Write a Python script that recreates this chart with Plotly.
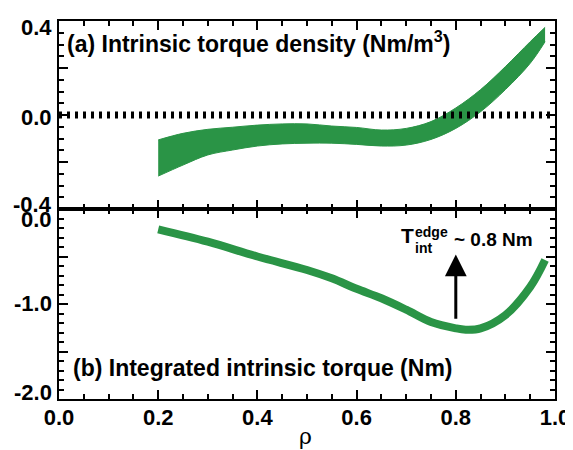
import plotly.graph_objects as go
from plotly.subplots import make_subplots

# ---- data ----
rho_a = [0.20, 0.25, 0.30, 0.35, 0.40, 0.45, 0.50, 0.55, 0.60, 0.65, 0.70, 0.75, 0.80, 0.85, 0.90, 0.95, 0.98]
torque_density_upper = [-0.106, -0.078, -0.061, -0.052, -0.043, -0.038, -0.038, -0.047, -0.053, -0.064, -0.057, -0.028, 0.030, 0.108, 0.206, 0.312, 0.373]
torque_density_lower = [-0.260, -0.213, -0.170, -0.149, -0.132, -0.123, -0.120, -0.120, -0.125, -0.132, -0.128, -0.104, -0.057, 0.014, 0.108, 0.220, 0.312]

rho_b = [0.20, 0.30, 0.40, 0.50, 0.55, 0.60, 0.65, 0.70, 0.75, 0.80, 0.82, 0.85, 0.90, 0.95, 0.98]
integrated_torque = [-0.214, -0.344, -0.500, -0.642, -0.730, -0.840, -0.940, -1.060, -1.190, -1.256, -1.270, -1.256, -1.116, -0.820, -0.537]

x_ticks = [0.0, 0.2, 0.4, 0.6, 0.8, 1.0]
x_ticktext = ["0.0", "0.2", "0.4", "0.6", "0.8", "1.0"]
ya_ticks = [-0.4, -0.2, 0.0, 0.2, 0.4]
ya_labels = [-0.4, 0.0, 0.4]
ya_labeltext = ["-0.4", "0.0", "0.4"]
yb_ticks = [-2.0, -1.5, -1.0, -0.5, 0.0]
yb_labels = [-2.0, -1.0, 0.0]
yb_labeltext = ["-2.0", "-1.0", "0.0"]

# IDL-style label offsets (pixels) so labels stay inside each panel's range
ya_label_shift = [5, -2, -6.5]
yb_label_shift = [7, 1, -10]

GREEN = "#2a9446"
FONT = "Liberation Sans, Arial, sans-serif"

fig = make_subplots(rows=2, cols=1, shared_xaxes=True, vertical_spacing=0,
                    row_heights=[188, 190])

# band (a)
fig.add_trace(go.Scatter(x=rho_a, y=torque_density_lower, mode="lines",
                         line=dict(color=GREEN, width=1, shape="spline"),
                         showlegend=False, hoverinfo="skip"), row=1, col=1)
fig.add_trace(go.Scatter(x=rho_a, y=torque_density_upper, mode="lines",
                         line=dict(color=GREEN, width=1, shape="spline"),
                         fill="tonexty", fillcolor=GREEN,
                         showlegend=False, hoverinfo="skip"), row=1, col=1)
# zero dotted line
fig.add_trace(go.Scatter(x=[0.0, 1.0], y=[0.0, 0.0], mode="lines",
                         line=dict(color="black", width=7, dash="3px,5px"),
                         showlegend=False, hoverinfo="skip"), row=1, col=1)

# line (b)
fig.add_trace(go.Scatter(x=rho_b, y=integrated_torque, mode="lines",
                         line=dict(color=GREEN, width=8, shape="spline"),
                         showlegend=False, hoverinfo="skip"), row=2, col=1)

axis_common = dict(showline=True, linecolor="black", linewidth=2, mirror="allticks",
                   ticks="inside", ticklen=9, tickwidth=2, tickcolor="black",
                   showgrid=False, zeroline=False, automargin=False,
                   tickfont=dict(family=FONT, size=22, color="black", weight="bold"))

fig.update_xaxes(range=[0, 1], tickvals=x_ticks, ticktext=x_ticktext,
                 minor=dict(dtick=0.05, ticks="inside", ticklen=5, tickwidth=1.5, tickcolor="black", showgrid=False),
                 **axis_common)
fig.update_xaxes(showticklabels=False, row=1, col=1)
fig.update_xaxes(ticklabelstandoff=-2, row=2, col=1)

fig.update_yaxes(range=[-0.4, 0.4], tickvals=ya_ticks, showticklabels=False,
                 minor=dict(dtick=0.05, tick0=0, ticks="inside", ticklen=5, tickwidth=1.5, tickcolor="black", showgrid=False),
                 row=1, col=1, **axis_common)
fig.update_yaxes(range=[-2.0, 0.0], tickvals=yb_ticks, showticklabels=False,
                 minor=dict(dtick=0.1, tick0=0, ticks="inside", ticklen=5, tickwidth=1.5, tickcolor="black", showgrid=False),
                 row=2, col=1, **axis_common)

tick_font = dict(family=FONT, size=22, color="black", weight="bold")
for v, t, s in zip(ya_labels, ya_labeltext, ya_label_shift):
    fig.add_annotation(x=0, y=v, xref="paper", yref="y", xanchor="right", yanchor="middle",
                       xshift=-5, yshift=s, text=t, showarrow=False, font=tick_font)
for v, t, s in zip(yb_labels, yb_labeltext, yb_label_shift):
    fig.add_annotation(x=0, y=v, xref="paper", yref="y2", xanchor="right", yanchor="middle",
                       xshift=-5, yshift=s, text=t, showarrow=False, font=tick_font)

ann_font = dict(family=FONT, size=23, color="black", weight="bold")
fig.add_annotation(x=0.012, y=0.31, xref="x", yref="y", xanchor="left", yanchor="middle",
                   text="(a) Intrinsic torque density (Nm/m<sup>3</sup>)", showarrow=False, font=ann_font)
fig.add_annotation(x=0.024, y=-1.67, xref="x2", yref="y2", xanchor="left", yanchor="middle",
                   text="(b) Integrated intrinsic torque (Nm)", showarrow=False, font=ann_font)

# T_int^edge annotation
fig.add_annotation(x=0.6845, y=-0.279, xref="x2", yref="y2", xanchor="left", yanchor="middle",
                   text="T", showarrow=False, font=dict(family=FONT, size=21, color="black", weight="bold"))
fig.add_annotation(x=0.713, y=-0.245, xref="x2", yref="y2", xanchor="left", yanchor="middle",
                   text="edge", showarrow=False, font=dict(family=FONT, size=14, color="black", weight="bold"))
fig.add_annotation(x=0.713, y=-0.41, xref="x2", yref="y2", xanchor="left", yanchor="middle",
                   text="int", showarrow=False, font=dict(family=FONT, size=14, color="black", weight="bold"))
fig.add_annotation(x=0.792, y=-0.316, xref="x2", yref="y2", xanchor="left", yanchor="middle",
                   text="~ 0.8 Nm", showarrow=False, font=dict(family=FONT, size=19, color="black", weight="bold"))

# arrow
fig.add_annotation(x=0.8, y=-0.48, ax=0.8, ay=-1.17, xref="x2", yref="y2", axref="x2", ayref="y2",
                   text="", showarrow=True, arrowhead=2, arrowsize=1.45, arrowwidth=3, arrowcolor="black",
                   standoff=0)

# x axis title rho
fig.add_annotation(x=0.497, y=-0.098, xref="paper", yref="paper", xanchor="center", yanchor="middle",
                   text="ρ", showarrow=False, font=dict(family="DejaVu Serif, serif", size=22, color="black"))

# page body has an 8px margin: compensate so the plot lands where the reference has it
fig.update_layout(width=565, height=442, margin=dict(l=51, r=18, t=13, b=51, autoexpand=False),
                  plot_bgcolor="white", paper_bgcolor="white", showlegend=False)

fig.write_html("out.html")
